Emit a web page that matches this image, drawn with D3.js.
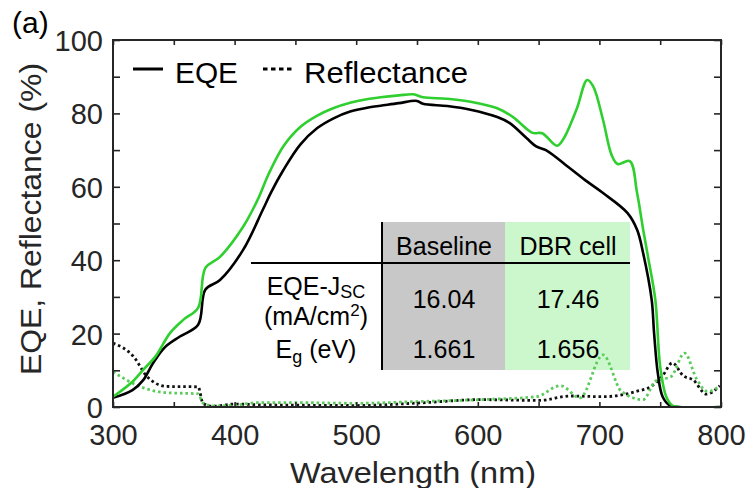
<!DOCTYPE html>
<html>
<head>
<meta charset="utf-8">
<script src="https://cdn.jsdelivr.net/npm/d3@7"></script>
<style>
  html, body { margin: 0; padding: 0; background: #fff; }
  svg { display: block; font-family: "Liberation Sans", Arial, Helvetica, sans-serif; }
</style>
</head>
<body>
<svg id="chart" width="748" height="488"></svg>
<script>
// EQE of the baseline cell (solid black)
const wlEqeBaseline = [300, 316, 325, 333, 343, 355, 370, 376, 388, 407, 423, 430, 440, 454, 468, 481, 495, 511, 520, 535, 550, 555, 575, 594, 616, 626, 640, 648, 656, 676, 690, 703, 723, 731, 736, 743, 745, 748, 752, 758, 765, 800];
const eqeBaseline   = [2.5, 4.6, 7.4, 12, 16.4, 19.2, 22.4, 32, 34.6, 42.8, 53.6, 58.5, 64.5, 71.5, 76, 78.6, 80.5, 81.7, 82.1, 82.8, 83.4, 82.6, 82, 81, 79, 77.4, 73.3, 71, 70, 65, 61.4, 58.3, 52.9, 48.3, 41.9, 29.2, 20, 9.3, 2.8, 0.4, 0, 0];

// EQE of the DBR cell (solid green)
const wlEqeDbr = [300, 316, 325, 335, 347, 358, 370, 376, 388, 407, 419, 428, 440, 454, 468, 481, 495, 511, 520, 535, 547, 555, 575, 594, 616, 629, 645, 653, 665, 670, 681, 690, 695, 703, 710, 715, 725, 731, 736, 740, 746, 750, 755, 760, 766, 800];
const eqeDbr   = [2.8, 6.9, 10.2, 13.8, 20.2, 23.8, 27, 37.9, 40.9, 49.1, 56.5, 63.5, 71, 76.3, 79.4, 81.4, 82.9, 84, 84.4, 84.9, 85.2, 84.4, 84, 83.2, 81.4, 79, 74.7, 74.6, 71.2, 72.8, 80.9, 89.1, 87.3, 78.2, 68.7, 66.2, 67, 58.3, 48.3, 40.9, 29.2, 11, 2.8, 0.4, 0, 0];

// Reflectance of the baseline cell (dotted black)
const wlReflBaseline = [300, 317, 328, 344, 370, 374, 382, 400, 420, 450, 500, 552, 602, 651, 676, 703, 731, 742, 752, 760, 769, 777, 788, 799];
const reflBaseline   = [17.4, 13.7, 8.3, 5.6, 5.5, 1, 0.2, 0.8, 0.6, 0.5, 0.4, 1.1, 2, 1.8, 3, 2.8, 4.3, 5.5, 8.5, 12, 8.5, 7.4, 3.5, 5.8];

// Reflectance of the DBR cell (dotted green)
const wlReflDbr = [300, 322, 344, 370, 374, 382, 400, 420, 450, 500, 552, 602, 648, 668, 684, 703, 718, 736, 746, 759, 770, 780, 789, 799];
const reflDbr   = [9.6, 5.6, 3.9, 3.6, 1.1, 0.3, 0.5, 1.2, 1.2, 1.0, 1.5, 2, 2.8, 5.8, 2.5, 14.2, 4.3, 2, 7, 8.3, 14.7, 7.6, 4.2, 5.7];

// Inset table contents
const tableColumns = ["Baseline", "DBR cell"];
const jscValues = ["16.04", "17.46"];
const egValues = ["1.661", "1.656"];

const xTicks = [300, 350, 400, 450, 500, 550, 600, 650, 700, 750, 800];
const yTicks = [0, 10, 20, 30, 40, 50, 60, 70, 80, 90, 100];

const AXIS = "#262626";
const GREEN = "#2ecf2e";
const GREEN_DOT = "#5ccb5c";

const svg = d3.select("#chart");
const plotLeft = 113, plotRight = 721, plotTop = 40, plotBottom = 407;

const x = d3.scaleLinear().domain([300, 800]).range([plotLeft, plotRight]);
const y = d3.scaleLinear().domain([0, 100]).range([plotBottom, plotTop]);

// Inset table backgrounds
const colX = [382, 505, 630];
const tTop = 222, tBottom = 370;
svg.append("rect").attr("x", colX[0]).attr("y", tTop).attr("width", colX[1] - colX[0]).attr("height", tBottom - tTop).attr("fill", "#c8c8c8");
svg.append("rect").attr("x", colX[1]).attr("y", tTop).attr("width", colX[2] - colX[1]).attr("height", tBottom - tTop).attr("fill", "#ccf7cc");

// Curves
const zip = (a, b) => a.map((w, i) => [w, b[i]]);
const eqeLine = d3.line().x(d => x(d[0])).y(d => y(d[1])).curve(d3.curveCatmullRom.alpha(0.5));
const reflLine = d3.line().x(d => x(d[0])).y(d => y(d[1])).curve(d3.curveMonotoneX);

svg.append("defs").append("clipPath").attr("id", "plot-clip")
  .append("rect").attr("x", plotLeft).attr("y", plotTop - 2).attr("width", plotRight - plotLeft).attr("height", plotBottom - plotTop + 2);

const plot = svg.append("g").attr("clip-path", "url(#plot-clip)");

plot.append("path").attr("d", reflLine(zip(wlReflBaseline, reflBaseline)))
  .attr("fill", "none").attr("stroke", "#111").attr("stroke-width", 2.8).attr("stroke-dasharray", "2.6,2.9");
plot.append("path").attr("d", reflLine(zip(wlReflDbr, reflDbr)))
  .attr("fill", "none").attr("stroke", GREEN_DOT).attr("stroke-width", 2.8).attr("stroke-dasharray", "2.6,2.9");
plot.append("path").attr("d", eqeLine(zip(wlEqeBaseline, eqeBaseline)))
  .attr("fill", "none").attr("stroke", "#000").attr("stroke-width", 2.6).attr("stroke-linejoin", "round");
plot.append("path").attr("d", eqeLine(zip(wlEqeDbr, eqeDbr)))
  .attr("fill", "none").attr("stroke", GREEN).attr("stroke-width", 2.6).attr("stroke-linejoin", "round");

// Axes box with inward ticks on all four sides
const fontSize = 29;
const axBottom = svg.append("g").attr("transform", `translate(0,${plotBottom})`)
  .call(d3.axisBottom(x).tickValues(xTicks).tickSize(-5).tickPadding(17)
    .tickFormat(d => d % 100 === 0 ? d : ""));
const axTop = svg.append("g").attr("transform", `translate(0,${plotTop})`)
  .call(d3.axisTop(x).tickValues(xTicks).tickSize(-5).tickFormat(""));
const axLeft = svg.append("g").attr("transform", `translate(${plotLeft},0)`)
  .call(d3.axisLeft(y).tickValues(yTicks).tickSize(-7).tickPadding(10)
    .tickFormat(d => d % 20 === 0 ? d : ""));
const axRight = svg.append("g").attr("transform", `translate(${plotRight},0)`)
  .call(d3.axisRight(y).tickValues(yTicks).tickSize(-7).tickFormat(""));

[axBottom, axTop, axLeft, axRight].forEach(g => {
  g.select(".domain").remove();
  g.selectAll(".tick line").attr("stroke", AXIS).attr("stroke-width", 1.6);
  g.selectAll(".tick text").attr("fill", AXIS).attr("font-size", fontSize)
    .attr("font-family", "'Liberation Sans', Arial, Helvetica, sans-serif");
});
axLeft.selectAll(".tick text").attr("dy", "0.36em");

svg.append("rect").attr("x", plotLeft).attr("y", plotTop).attr("width", plotRight - plotLeft).attr("height", plotBottom - plotTop)
  .attr("fill", "none").attr("stroke", AXIS).attr("stroke-width", 2);

// Axis titles
svg.append("text").attr("x", 413).attr("y", 483).attr("text-anchor", "middle")
  .attr("font-size", fontSize).attr("fill", AXIS)
  .attr("textLength", 246).attr("lengthAdjust", "spacingAndGlyphs")
  .text("Wavelength (nm)");
svg.append("text").attr("transform", "translate(41,219) rotate(-90)").attr("text-anchor", "middle")
  .attr("font-size", fontSize).attr("fill", AXIS)
  .attr("textLength", 312).attr("lengthAdjust", "spacingAndGlyphs")
  .text("EQE, Reflectance (%)");

// Panel label
svg.append("text").attr("x", 12).attr("y", 33).attr("font-size", 30).attr("fill", "#000").text("(a)");

// Legend
svg.append("line").attr("x1", 133).attr("x2", 163).attr("y1", 69).attr("y2", 69)
  .attr("stroke", "#000").attr("stroke-width", 3);
svg.append("text").attr("x", 175).attr("y", 83).attr("font-size", fontSize).attr("fill", "#000")
  .attr("textLength", 63).attr("lengthAdjust", "spacingAndGlyphs").text("EQE");
svg.append("line").attr("x1", 263).attr("x2", 293).attr("y1", 69).attr("y2", 69)
  .attr("stroke", "#000").attr("stroke-width", 3).attr("stroke-dasharray", "4.5,3.5");
svg.append("text").attr("x", 304).attr("y", 83).attr("font-size", fontSize).attr("fill", "#000")
  .attr("textLength", 164).attr("lengthAdjust", "spacingAndGlyphs").text("Reflectance");

// Inset table lines and text
svg.append("line").attr("x1", 251).attr("x2", colX[2]).attr("y1", 263).attr("y2", 263)
  .attr("stroke", "#000").attr("stroke-width", 2);
svg.append("line").attr("x1", colX[0]).attr("x2", colX[0]).attr("y1", tTop).attr("y2", tBottom)
  .attr("stroke", "#000").attr("stroke-width", 2);

const tFont = 25;
const colCenters = [444, 568];
tableColumns.forEach((c, i) => {
  svg.append("text").attr("x", colCenters[i]).attr("y", 255).attr("text-anchor", "middle")
    .attr("font-size", tFont).attr("fill", "#000").text(c);
});
jscValues.forEach((v, i) => {
  svg.append("text").attr("x", colCenters[i]).attr("y", 308).attr("text-anchor", "middle")
    .attr("font-size", tFont).attr("fill", "#000").text(v);
});
egValues.forEach((v, i) => {
  svg.append("text").attr("x", colCenters[i]).attr("y", 358).attr("text-anchor", "middle")
    .attr("font-size", tFont).attr("fill", "#000").text(v);
});

const rowLabelX = 316;
const r1 = svg.append("text").attr("x", rowLabelX).attr("y", 295).attr("text-anchor", "middle")
  .attr("font-size", tFont).attr("fill", "#000");
r1.append("tspan").text("EQE-J");
r1.append("tspan").attr("font-size", 18).attr("dy", 3).text("SC");

const r2 = svg.append("text").attr("x", rowLabelX).attr("y", 325).attr("text-anchor", "middle")
  .attr("font-size", tFont).attr("fill", "#000");
r2.append("tspan").text("(mA/cm");
r2.append("tspan").attr("font-size", 17).attr("dy", -9).text("2");
r2.append("tspan").attr("dy", 9).text(")");

const r3 = svg.append("text").attr("x", rowLabelX).attr("y", 358).attr("text-anchor", "middle")
  .attr("font-size", tFont).attr("fill", "#000");
r3.append("tspan").text("E");
r3.append("tspan").attr("font-size", 18).attr("dy", 5).text("g");
r3.append("tspan").attr("dy", -5).text(" (eV)");
</script>
</body>
</html>
